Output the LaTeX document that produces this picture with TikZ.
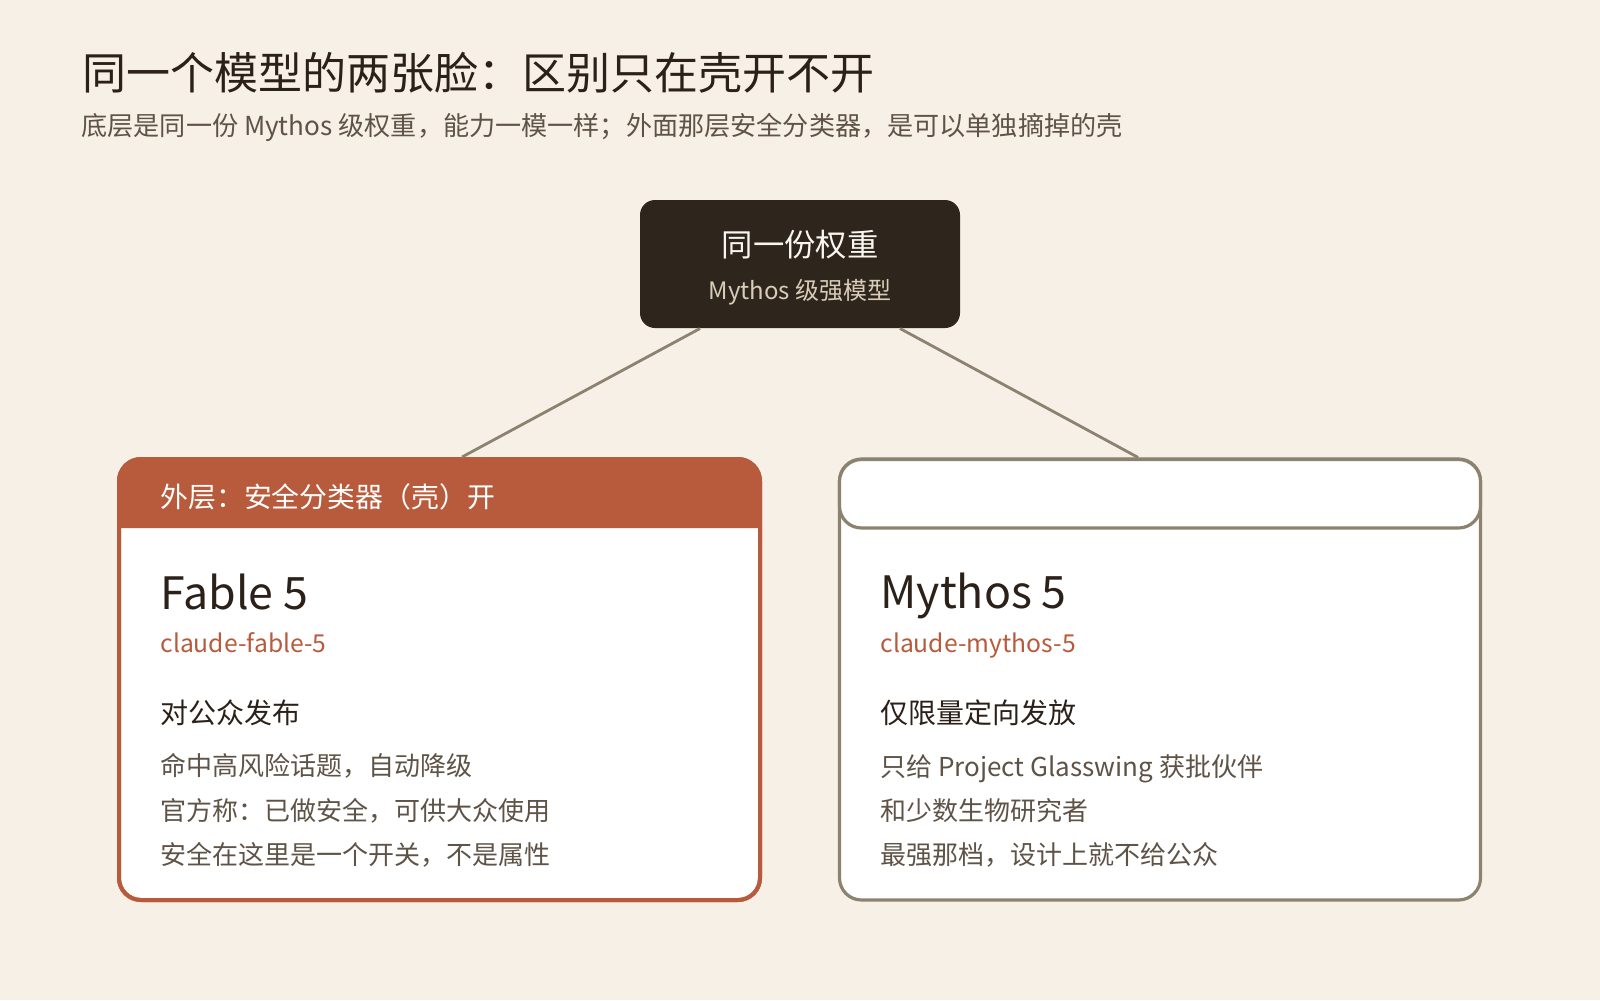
\documentclass[tikz,border=0pt]{standalone}
\usepackage{fontspec}
\setmainfont{Noto Sans CJK SC}
\definecolor{bgcream}{HTML}{F7F0E7}
\definecolor{ink}{HTML}{2B2119}
\definecolor{muted}{HTML}{5E5346}
\definecolor{rust}{HTML}{B85B3C}
\definecolor{linkgray}{HTML}{8C8270}
\definecolor{darkbox}{HTML}{2E251D}
\definecolor{pale}{HTML}{D9CDB9}
\definecolor{snow}{HTML}{FAF6F0}

\tikzset{every picture/.style={line width=0.75pt}}
\tikzset{
  txt/.style={anchor=west, inner sep=0pt},
  card/.style={fill=white, rounded corners=16.5pt, minimum width=480.75pt, minimum height=330.75pt, inner sep=0pt},
  link/.style={draw=linkgray, line width=2.1pt},
}

\begin{document}
\begin{tikzpicture}[x=0.75pt,y=0.75pt,yscale=-1,xscale=1]
\useasboundingbox (0,0) rectangle (1600,1000);
\fill [bgcream] (0,0) rectangle (1600,1000);

% Title
\node (title) [txt, text=ink, font=\fontsize{33}{40}\selectfont] at (82,73) {同一个模型的两张脸：区别只在壳开不开};
\node (subtitle) [txt, text=muted, font=\fontsize{19.6}{24}\selectfont] at (81,127) {底层是同一份 Mythos 级权重，能力一模一样；外面那层安全分类器，是可以单独摘掉的壳};

% Shape: weights box
\node (weights) [fill=darkbox, rounded corners=11.25pt, minimum width=240pt, minimum height=96pt, inner sep=0pt] at (800,264) {};
\node (wtitle) [inner sep=0pt, text=snow, font=\fontsize{23.5}{28}\selectfont] at (800,245) {同一份权重};
\node (wsub) [inner sep=0pt, text=pale, font=\fontsize{18}{22}\selectfont] at (800,292) {Mythos 级强模型};

% Shape: left card, shell on
\node (fable) [card, draw=rust, line width=3pt] at (439.5,679.5) {};
\fill [rust] (119,528) [rounded corners=16.5pt] -- (119,459) -- (760,459) [sharp corners] -- (760,528) -- cycle;
\draw [rust, line width=3pt, rounded corners=16.5pt] (119,459) rectangle (760,900);

% Shape: right card, shell off
\node (mythos) [card, draw=linkgray, line width=2.4pt] at (1160,679.5) {};
\draw [linkgray, fill=white, line width=2.4pt, rounded corners=16.5pt] (839.5,459.5) rectangle (1480.5,528);

% Text Node
\node (fhead) [txt, text=white, font=\fontsize{20.9}{24}\selectfont] at (160,497) {外层：安全分类器（壳）开};
\node (fname) [txt, text=ink, font=\fontsize{33.5}{40}\selectfont] at (160,592) {Fable 5};
\node (fid) [txt, text=rust, font=\fontsize{18.5}{22}\selectfont] at (160,643) {claude-fable-5};
\node (fkind) [txt, text=ink, font=\fontsize{21}{25}\selectfont] at (160,713) {对公众发布};
\node (fa) [txt, text=muted, font=\fontsize{19.5}{24}\selectfont] at (160,766) {命中高风险话题，自动降级};
\node (fb) [txt, text=muted, font=\fontsize{19.5}{24}\selectfont] at (160,811) {官方称：已做安全，可供大众使用};
\node (fc) [txt, text=muted, font=\fontsize{19.5}{24}\selectfont] at (160,855) {安全在这里是一个开关，不是属性};

% Text Node
\node (mname) [txt, text=ink, font=\fontsize{33.5}{40}\selectfont] at (880,596) {Mythos 5};
\node (mid) [txt, text=rust, font=\fontsize{18.5}{22}\selectfont] at (880,646) {claude-mythos-5};
\node (mkind) [txt, text=ink, font=\fontsize{21}{25}\selectfont] at (880,713) {仅限量定向发放};
\node (ma) [txt, text=muted, font=\fontsize{19.5}{24}\selectfont] at (880,769) {只给 Project Glasswing 获批伙伴};
\node (mb) [txt, text=muted, font=\fontsize{19.5}{24}\selectfont] at (880,811) {和少数生物研究者};
\node (mc) [txt, text=muted, font=\fontsize{19.5}{24}\selectfont] at (880,855) {最强那档，设计上就不给公众};

% Straight Lines
\draw [link] ([xshift=-75pt]weights.south) -- ([xshift=16.9pt]fable.north);
\draw [link] ([xshift=75pt]weights.south) -- ([xshift=-16.5pt]mythos.north);

\end{tikzpicture}
\end{document}
